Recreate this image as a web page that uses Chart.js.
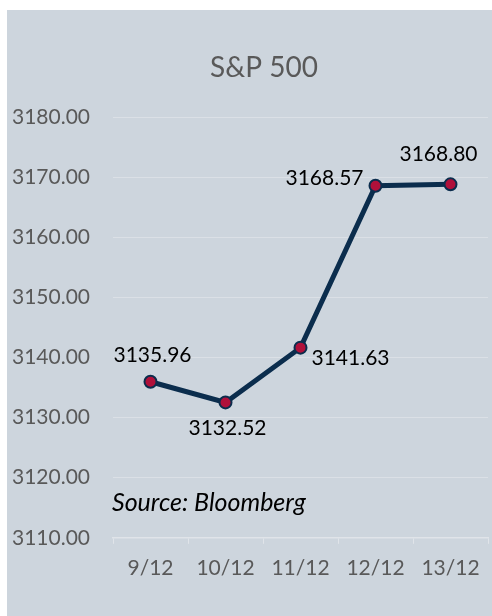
<!DOCTYPE html>
<html lang="en">
<head>
    <meta charset="UTF-8">
    <title>S&amp;P 500</title>
    <script src="https://cdn.jsdelivr.net/npm/chart.js"></script>
    <style>
        html, body { margin: 0; padding: 0; background: #ffffff; overflow: hidden; }
        #wrap { position: absolute; left: 7px; top: 10px; width: 489px; height: 606px; background: #cdd5dd; }
    </style>
</head>
<body>
    <div id="wrap"><canvas id="chart" width="489" height="606"></canvas></div>

    <script>
        const days = ['9/12', '10/12', '11/12', '12/12', '13/12'];
        const closes = [3135.96, 3132.52, 3141.63, 3168.57, 3168.80];
        const yMin = 3110, yMax = 3180, yStep = 10;

        // where each value label sits relative to its point (px)
        const labelShift = [[2, -27], [2, 26], [50, 11], [-51, -7], [-12, -30]];

        const GREY = '#595959';
        const FONT = 'Lato, "Open Sans", sans-serif';

        const textPlugin = {
            id: 'texts',
            afterDatasetsDraw(chart) {
                const ctx = chart.ctx;
                ctx.save();
                ctx.textAlign = 'center';
                ctx.textBaseline = 'middle';

                // title
                ctx.fillStyle = GREY;
                ctx.font = '28px ' + FONT;
                ctx.fillText('S&P 500', 257, 58);

                // value labels
                ctx.fillStyle = '#000000';
                ctx.font = '21px ' + FONT;
                chart.getDatasetMeta(0).data.forEach((pt, i) => {
                    const s = labelShift[i];
                    ctx.fillText(closes[i].toFixed(2), pt.x + s[0], pt.y + s[1]);
                });

                // source note
                ctx.textAlign = 'left';
                ctx.font = 'italic 25px ' + FONT;
                ctx.fillText('Source: Bloomberg', 105, 493);
                ctx.restore();
            }
        };

        new Chart(document.getElementById('chart'), {
            type: 'line',
            data: {
                labels: days,
                datasets: [{
                    data: closes,
                    borderColor: '#0b2d4d',
                    borderWidth: 5,
                    pointBackgroundColor: '#b0103a',
                    pointBorderColor: '#0b2d4d',
                    pointBorderWidth: 2,
                    pointRadius: 6,
                    tension: 0
                }]
            },
            options: {
                responsive: false,
                animation: false,
                layout: { padding: { left: 5, top: 107, right: 0, bottom: 23 } },
                plugins: {
                    legend: { display: false },
                    title: { display: false },
                    tooltip: { enabled: false }
                },
                scales: {
                    x: {
                        offset: true,
                        grid: { drawOnChartArea: false, tickLength: 6, color: '#e0e4e9', offset: true },
                        border: { display: true, color: '#e0e4e9', width: 1.5 },
                        ticks: { color: GREY, font: { family: FONT, size: 21 }, padding: 12 }
                    },
                    y: {
                        min: yMin,
                        max: yMax,
                        ticks: {
                            stepSize: yStep,
                            color: GREY,
                            crossAlign: 'far',
                            font: { family: FONT, size: 21 },
                            callback: v => Number(v).toFixed(2)
                        },
                        grid: { color: '#dbe0e6', drawTicks: false },
                        border: { display: false },
                        afterFit: s => { s.width = 101; }
                    }
                }
            },
            plugins: [textPlugin]
        });
    </script>
</body>
</html>
